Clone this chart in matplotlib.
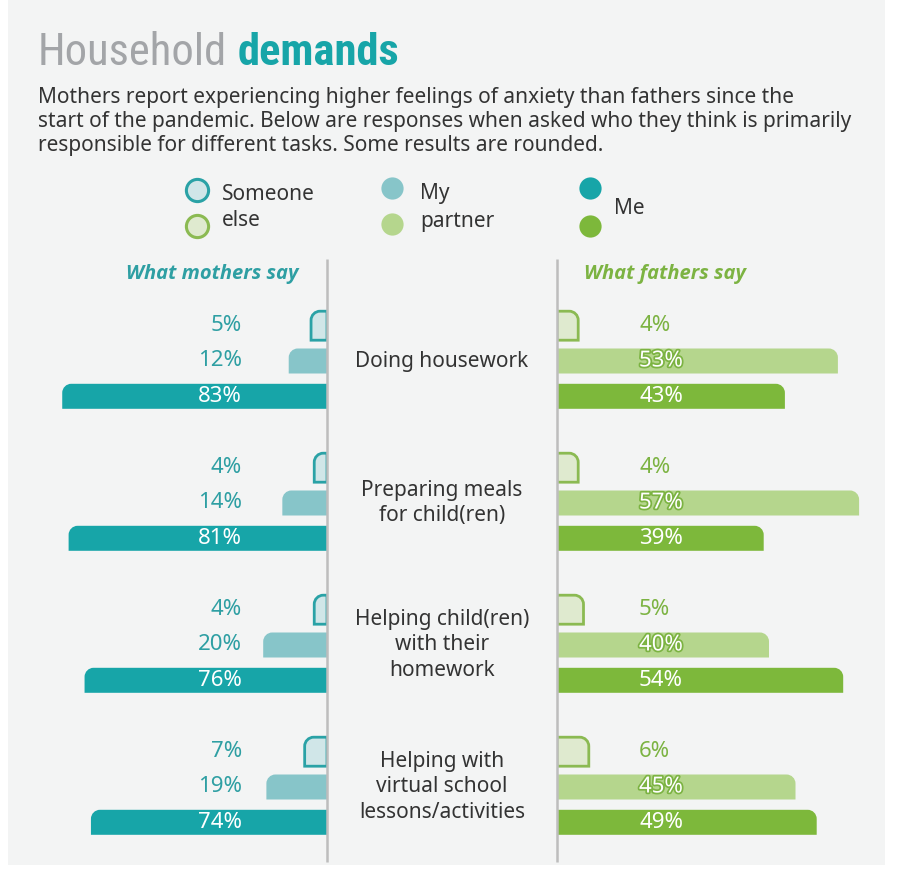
import matplotlib
matplotlib.use('Agg')
import matplotlib.pyplot as plt
from matplotlib.path import Path
from matplotlib.patches import PathPatch, Rectangle
import matplotlib.patheffects as pe
from matplotlib import font_manager

# ---------------- data ----------------
categories = ["Doing housework",
              "Preparing meals\nfor child(ren)",
              "Helping child(ren)\nwith their\nhomework",
              "Helping with\nvirtual school\nlessons/activities"]
responses = ["Someone else", "My partner", "Me"]
mothers_someone = [5, 4, 4, 7]
mothers_partner = [12, 14, 20, 19]
mothers_me = [83, 81, 76, 74]
fathers_someone = [4, 4, 5, 6]
fathers_partner = [53, 57, 40, 45]
fathers_me = [43, 39, 54, 49]

title_a = "Household"
title_b = "demands"
subtitle_lines = ["Mothers report experiencing higher feelings of anxiety than fathers since the",
                  "start of the pandemic. Below are responses when asked who they think is primarily",
                  "responsible for different tasks. Some results are rounded."]
header_m = "What mothers say"
header_f = "What fathers say"


def has_family(f):
    try:
        font_manager.findfont(font_manager.FontProperties(family=f), fallback_to_default=False)
        return True
    except Exception:
        return False


def pick(fams):
    for f in fams:
        if has_family(f):
            return f
    return 'DejaVu Sans'


def pick_bold_italic(fams):
    for f in fams:
        try:
            p = font_manager.findfont(font_manager.FontProperties(family=f, style='italic', weight='bold'),
                                      fallback_to_default=False)
            low = p.lower()
            if 'italic' in low and 'bold' in low:
                return f
        except Exception:
            pass
    return 'DejaVu Sans'


def pick_condensed():
    names = ['Liberation Sans Narrow', 'Roboto Condensed', 'Open Sans Condensed', 'Noto Sans Condensed']
    for n in names:
        if has_family(n):
            return n, 'normal'
    for f in font_manager.fontManager.ttflist:
        if str(f.stretch) in ('condensed', 'semi-condensed', 'extra-condensed', '75', '87.5') \
                or 'condensed' in f.fname.lower() or 'narrow' in f.fname.lower():
            return f.name, f.stretch
    return None, None


BODY_FONT = pick(['Noto Sans', 'Open Sans', 'DejaVu Sans'])
HEAD_FONT = pick_bold_italic(['Noto Sans', 'Open Sans', 'Lato', 'Roboto', 'DejaVu Sans'])
COND_NAME, COND_STRETCH = pick_condensed()
plt.rcParams['font.family'] = [BODY_FONT, 'DejaVu Sans']

# ---------------- colours ----------------
BG = '#f3f4f4'
TEAL_D, TEAL_M, TEAL_L, TEAL_E = '#17a5a8', '#87c5c9', '#d0e6e8', '#2aa2a6'
GREEN_D, GREEN_M, GREEN_L, GREEN_E = '#7db83b', '#b5d68d', '#dfeacf', '#8bba52'
TEAL_T, GREEN_T = '#2e9fa3', '#7cb342'
DARK = '#333333'
GRAY_T = '#a3a5a8'
DIV = '#bdbdbd'

W, H = 900, 873
fig = plt.figure(figsize=(W / 100, H / 100), dpi=100)
fig.patch.set_facecolor('white')


def pix_axes(z):
    a = fig.add_axes([0, 0, 1, 1], zorder=z)
    a.set_xlim(0, W)
    a.set_ylim(H, 0)
    a.axis('off')
    a.patch.set_alpha(0)
    return a


axbg = pix_axes(0)
axbg.add_patch(Rectangle((8, 0), 877, 865, facecolor=BG, edgecolor='none'))

TOP, BOT = 262, 865
CENTER_M, CENTER_F = 327, 557
PX_M, PX_F = 3.19, 5.3
ax_m = fig.add_axes([30 / W, 1 - BOT / H, (CENTER_M - 30) / W, (BOT - TOP) / H], zorder=2)
ax_f = fig.add_axes([CENTER_F / W, 1 - BOT / H, (885 - CENTER_F) / W, (BOT - TOP) / H], zorder=2)
ax_m.set_xlim((CENTER_M - 30) / PX_M, 0)
ax_f.set_xlim(0, (885 - CENTER_F) / PX_F)
for a in (ax_m, ax_f):
    a.set_ylim(BOT, TOP)
    a.axis('off')
    a.patch.set_alpha(0)

axtop = pix_axes(10)

ROW0, GROUP_STEP, ROW_STEP = 325.7, 142.0, 35.3
H_SOME, H_BAR = 29, 25
RAD = 9


def rbar(ax, v, yc, h, px_per, **kw):
    rx = min(RAD / px_per, v)
    ry = RAD
    t, b = yc - h / 2, yc + h / 2
    k = 0.5523
    verts = [(0, b), (v, b), (v, t + ry), (v, t + ry - k * ry),
             (v - rx + k * rx, t), (v - rx, t), (0, t), (0, b)]
    codes = [Path.MOVETO, Path.LINETO, Path.LINETO, Path.CURVE4,
             Path.CURVE4, Path.CURVE4, Path.LINETO, Path.CLOSEPOLY]
    ax.add_patch(PathPatch(Path(verts, codes), **kw))


def row_y(g, r):
    return ROW0 + g * GROUP_STEP + r * ROW_STEP


VAL_FS = 16
TXT_FS = 15
LAB_X_M = 242
LAB_X_F = 639
stroke_f = [pe.withStroke(linewidth=2.5, foreground=GREEN_T)]

for g in range(len(categories)):
    # mothers
    rbar(ax_m, mothers_someone[g], row_y(g, 0), H_SOME, PX_M,
         facecolor=TEAL_L, edgecolor=TEAL_E, linewidth=2)
    rbar(ax_m, mothers_partner[g], row_y(g, 1), H_BAR, PX_M,
         facecolor=TEAL_M, edgecolor='none')
    rbar(ax_m, mothers_me[g], row_y(g, 2), H_BAR, PX_M,
         facecolor=TEAL_D, edgecolor='none')
    axtop.text(LAB_X_M, row_y(g, 0), f"{mothers_someone[g]}%", ha='right', va='center',
               fontsize=VAL_FS, color=TEAL_T)
    axtop.text(LAB_X_M, row_y(g, 1), f"{mothers_partner[g]}%", ha='right', va='center',
               fontsize=VAL_FS, color=TEAL_T)
    axtop.text(LAB_X_M, row_y(g, 2), f"{mothers_me[g]}%", ha='right', va='center',
               fontsize=VAL_FS, color='white')
    # fathers
    rbar(ax_f, fathers_someone[g], row_y(g, 0), H_SOME, PX_F,
         facecolor=GREEN_L, edgecolor=GREEN_E, linewidth=2)
    rbar(ax_f, fathers_partner[g], row_y(g, 1), H_BAR, PX_F,
         facecolor=GREEN_M, edgecolor='none')
    rbar(ax_f, fathers_me[g], row_y(g, 2), H_BAR, PX_F,
         facecolor=GREEN_D, edgecolor='none')
    axtop.text(LAB_X_F, row_y(g, 0), f"{fathers_someone[g]}%", ha='left', va='center',
               fontsize=VAL_FS, color=GREEN_T)
    axtop.text(LAB_X_F, row_y(g, 1), f"{fathers_partner[g]}%", ha='left', va='center',
               fontsize=VAL_FS, color='white', path_effects=stroke_f)
    axtop.text(LAB_X_F, row_y(g, 2), f"{fathers_me[g]}%", ha='left', va='center',
               fontsize=VAL_FS, color='white')
    # category label
    axtop.text((CENTER_M + CENTER_F) / 2, row_y(g, 1), categories[g], ha='center', va='center',
               fontsize=TXT_FS, color=DARK, linespacing=1.25)

# dividers
for x in (CENTER_M, CENTER_F):
    axtop.plot([x, x], [259, 862], color=DIV, lw=1.8, solid_capstyle='butt')

# headers
axtop.text(298, 274, header_m, ha='right', va='center', fontsize=14.5, fontweight='bold',
           style='italic', family=[HEAD_FONT, 'DejaVu Sans'], color=TEAL_T)
axtop.text(584, 274, header_f, ha='left', va='center', fontsize=14.5, fontweight='bold',
           style='italic', family=[HEAD_FONT, 'DejaVu Sans'], color=GREEN_T)

# title (fit to reference width)
if COND_NAME:
    tkw = dict(family=[COND_NAME, 'DejaVu Sans'], fontstretch=COND_STRETCH)
    TFS = 38
else:
    tkw = dict(family=['Roboto', 'DejaVu Sans'])
    TFS = 36
renderer = fig.canvas.get_renderer()
TARGET_W = 362
for _ in range(3):
    t1 = axtop.text(38, 65, title_a, ha='left', va='baseline', fontsize=TFS, color=GRAY_T, **tkw)
    bb1 = t1.get_window_extent(renderer)
    t2tmp = axtop.text(0, 0, " " + title_b, fontsize=TFS, fontweight='semibold', **tkw)
    bb2 = t2tmp.get_window_extent(renderer)
    total = bb1.width + bb2.width
    t2tmp.remove()
    if abs(total - TARGET_W) < 3:
        break
    t1.remove()
    TFS = TFS * TARGET_W / total
x_end = axtop.transData.inverted().transform((bb1.x1, bb1.y0))[0]
axtop.text(x_end + (bb2.width - axtop.text(0, 0, title_b, fontsize=TFS, fontweight='semibold', alpha=0, **tkw)
                    .get_window_extent(renderer).width), 65, title_b, ha='left', va='baseline', fontsize=TFS,
           fontweight='semibold', color=TEAL_D, **tkw)

# subtitle
for i, line in enumerate(subtitle_lines):
    axtop.text(38, 97 + 24 * i, line, ha='left', va='center', fontsize=TXT_FS, color=DARK)

# legend
LEG_MS = 16
legend_items = [
    (197, 190, TEAL_L, TEAL_E), (197, 226, GREEN_L, GREEN_E),
    (392, 188, TEAL_M, TEAL_M), (392, 224, GREEN_M, GREEN_M),
    (590, 188, TEAL_D, TEAL_D), (590, 226, GREEN_D, GREEN_D),
]
for x, y, fc, ec in legend_items:
    axtop.plot([x], [y], marker='o', markersize=LEG_MS, markerfacecolor=fc,
               markeredgecolor=ec, markeredgewidth=2.2 if fc != ec else 0, linestyle='none')
axtop.text(222, 194, "Someone", ha='left', va='center', fontsize=TXT_FS, color=DARK)
axtop.text(222, 220, "else", ha='left', va='center', fontsize=TXT_FS, color=DARK)
axtop.text(420, 194, "My", ha='left', va='center', fontsize=TXT_FS, color=DARK)
axtop.text(420, 221, "partner", ha='left', va='center', fontsize=TXT_FS, color=DARK)
axtop.text(614, 208, "Me", ha='left', va='center', fontsize=TXT_FS, color=DARK)

fig.savefig('out.png', dpi=100, facecolor=fig.get_facecolor())
